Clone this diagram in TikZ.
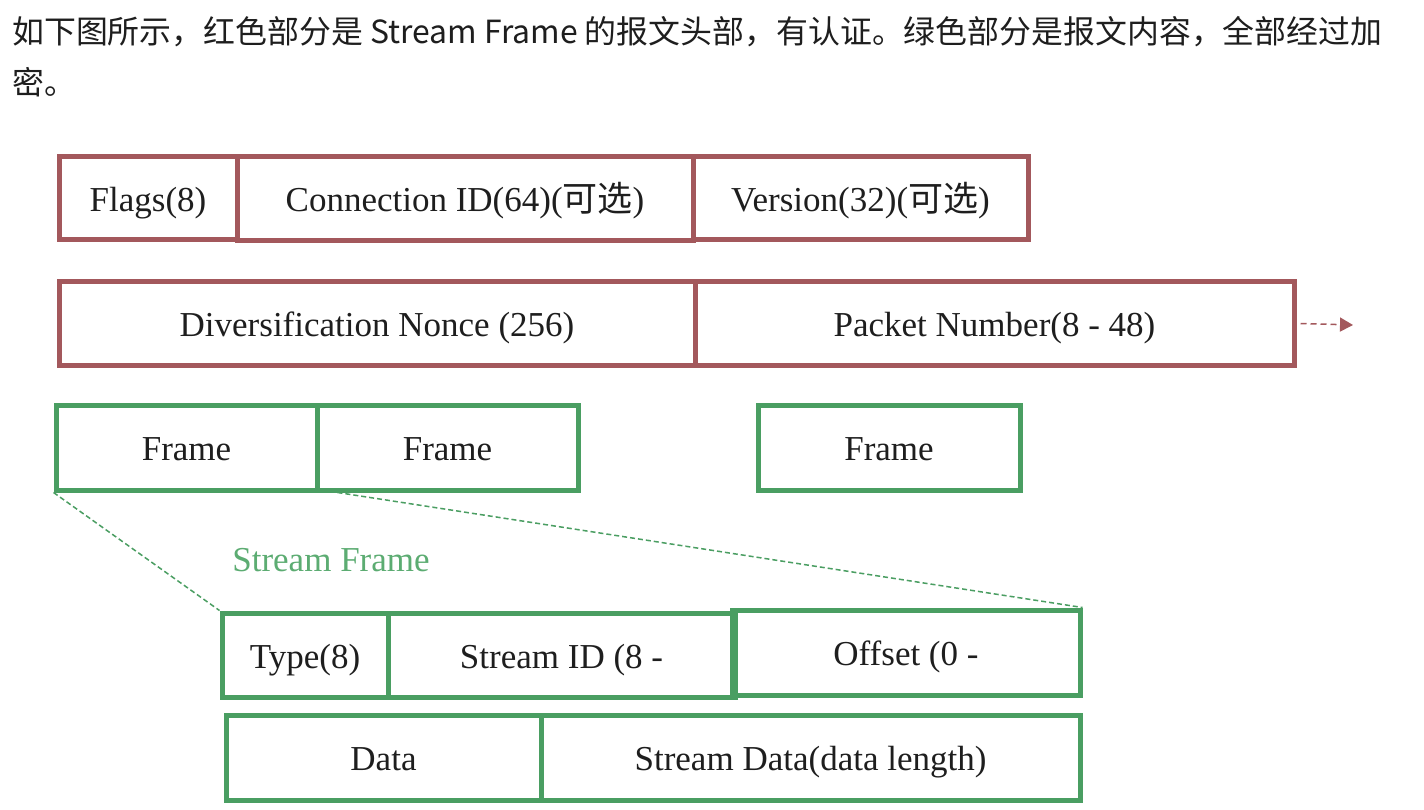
\documentclass[tikz,border=0pt]{standalone}
\usepackage{fontspec}
\setmainfont{Liberation Serif}
\newfontfamily\cjk{Noto Sans CJK SC}
\usetikzlibrary{arrows.meta}
\definecolor{hdrred}{RGB}{163,88,92}
\definecolor{bodygreen}{RGB}{74,158,98}
\definecolor{labgreen}{RGB}{92,172,114}
\definecolor{txt}{RGB}{30,30,30}
\tikzset{
  field/.style={draw, line width=5pt, inner sep=0pt, text=txt,
    font=\fontsize{35}{35}\selectfont, text height=26pt, text depth=0pt},
  redfield/.style={field, draw=hdrred},
  greenfield/.style={field, draw=bodygreen},
  zoomline/.style={draw=bodygreen, line width=1.5pt, dash pattern=on 5pt off 3pt},
}
\begin{document}
\begin{tikzpicture}[x=1pt,y=-1pt]
\useasboundingbox[fill=white] (0,0) rectangle (1424,810);
% header text
\node[anchor=west, inner sep=0pt, text=txt, font=\cjk\fontsize{31.9}{31.9}\selectfont] (l1) at (12,32)
  {如下图所示，红色部分是 Stream Frame 的报文头部，有认证。绿色部分是报文内容，全部经过加};
\node[anchor=west, inner sep=0pt, text=txt, font=\cjk\fontsize{31.9}{31.9}\selectfont] (l2) at (12,82) {密。};
% row 1
\node[redfield, minimum width=178pt, minimum height=83pt] (flags) at (148,198.5) {Flags(8)};
\node[redfield, minimum width=456pt, minimum height=84pt] (cid) at (465,199) {Connection ID(64)({\cjk 可选})};
\node[redfield, minimum width=335pt, minimum height=83pt] (ver) at (860.5,198.5) {Version(32)({\cjk 可选})};
% row 2
\node[redfield, minimum width=636pt, minimum height=83pt] (nonce) at (377,323.5) {Diversification Nonce (256)};
\node[redfield, minimum width=599pt, minimum height=83pt] (pn) at (994.5,323.5) {Packet Number(8 - 48)};
\coordinate (arrend) at (1353,325);
\draw[hdrred, line width=1.5pt, dash pattern=on 6pt off 4pt, -{Triangle[length=13pt,width=14pt]}] ([xshift=4pt]pn.east) -- (arrend);
% row 3
\node[greenfield, minimum width=261pt, minimum height=85pt] (f1) at (186.5,447.5) {Frame};
\node[greenfield, minimum width=261pt, minimum height=85pt] (f2) at (447.5,447.5) {Frame};
\node[greenfield, minimum width=262pt, minimum height=85pt] (f3) at (889,447.5) {Frame};
% stream frame label
\node[text=labgreen, font=\fontsize{35}{35}\selectfont, inner sep=0pt] (sflab) at (331,560) {Stream Frame};
% row 4
\node[greenfield, minimum width=166pt, minimum height=84pt] (type) at (305,655) {Type(8)};
\node[greenfield, minimum width=347pt, minimum height=84pt] (sid) at (561.5,655) {Stream ID (8 -};
\node[greenfield, minimum width=348pt, minimum height=85pt] (off) at (906,652.5) {Offset (0 -};
% row 5
\node[greenfield, minimum width=315pt, minimum height=85pt] (data) at (383.5,757.5) {Data};
\node[greenfield, minimum width=539pt, minimum height=85pt] (sdata) at (810.5,757.5) {Stream Data(data length)};
% zoom lines
\draw[zoomline] (f1.south west) -- (type.north west);
\draw[zoomline] ([xshift=23pt]f2.south west) -- (off.north east);
\end{tikzpicture}
\end{document}
